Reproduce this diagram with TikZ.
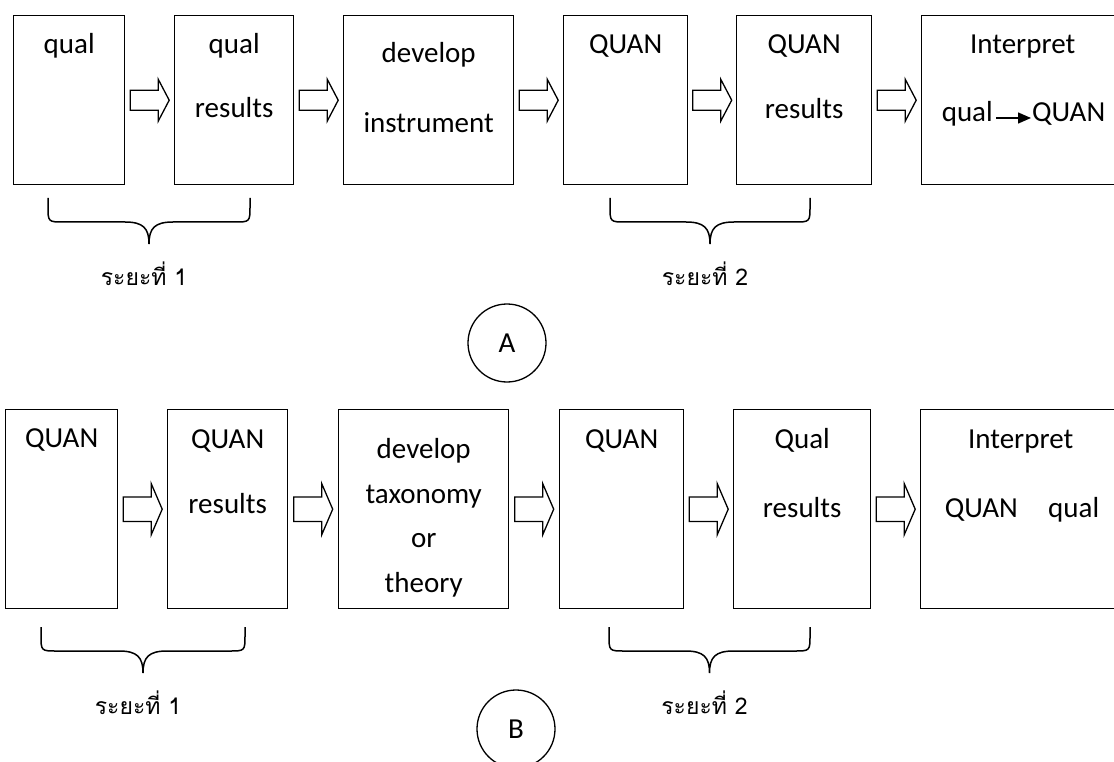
\documentclass[tikz,border=0pt]{standalone}
\usepackage{fontspec}
\setmainfont{Carlito}
\newfontfamily\thaifont[Script=Thai]{Loma}
\usetikzlibrary{calc,arrows.meta}

\begin{document}
\begin{tikzpicture}[x=1pt, y=-1pt, line join=miter]

%---- STYLES ----
\tikzset{
    stage/.style={draw, line width=1.4pt, inner sep=0pt, anchor=north west},
    lbl/.style={inner sep=0pt, anchor=base, font=\fontsize{29}{34}\selectfont},
    phase/.style={line width=1.5pt},
    phaselbl/.style={inner sep=0pt, anchor=base, font=\thaifont\fontsize{23}{28}\selectfont},
    tag/.style={draw, circle, line width=1.3pt, minimum size=78pt, inner sep=0pt,
        font=\fontsize{29}{34}\selectfont},
    blockarrow/.pic={
        \draw[line width=1.3pt] (-19.5,-10) -- (8.5,-10) -- (8.5,-21) -- (19.5,0)
            -- (8.5,21) -- (8.5,10) -- (-19.5,10) -- cycle;
    },
}

% FRAME
\useasboundingbox (0,0) rectangle (1114,762);
\clip (0,0) rectangle (1114,762);

%---- ROW A: qual -> QUAN ----
\node[stage, minimum width=111pt, minimum height=169pt] (qualA)    at (13,15)  {};
\node[stage, minimum width=119pt, minimum height=169pt] (qualresA) at (174,15) {};
\node[stage, minimum width=170pt, minimum height=169pt] (instrA)   at (343,15) {};
\node[stage, minimum width=124pt, minimum height=169pt] (quanA)    at (563,15) {};
\node[stage, minimum width=135pt, minimum height=169pt] (quanresA) at (736,15) {};
\node[stage, minimum width=202pt, minimum height=169pt] (interpA)  at (921,15) {};

% texts A
\node[lbl] at ($(qualA.north)+(0,39)$)    {qual};
\node[lbl] at ($(qualresA.north)+(0,39)$) {qual};
\node[lbl] at ($(qualresA.north)+(0,103)$) {results};
\node[lbl] at ($(instrA.north)+(0,48)$)   {develop};
\node[lbl] at ($(instrA.north)+(0,118)$)  {instrument};
\node[lbl] at ($(quanA.north)+(0,39)$)    {QUAN};
\node[lbl] at ($(quanresA.north)+(0,39)$) {QUAN};
\node[lbl] at ($(quanresA.north)+(0,104)$) {results};
\node[lbl] at ($(interpA.north)+(0,39)$)  {Interpret};
\node[lbl, anchor=base east] (qualI) at ($(interpA.north west)+(72,107)$)  {qual};
\node[lbl, anchor=base west] (quanI) at ($(interpA.north west)+(111,107)$) {QUAN};
\draw[line width=1.4pt, -{Triangle[length=13pt, width=11pt]}, shorten <=3pt, shorten >=1pt]
    ([yshift=4pt]qualI.base east) -- ([yshift=4pt]quanI.base west);

%---- ROW B: QUAN -> qual ----
\node[stage, minimum width=112pt, minimum height=199pt] (quanB)    at (5,409)   {};
\node[stage, minimum width=120pt, minimum height=199pt] (quanresB) at (167,409) {};
\node[stage, minimum width=170pt, minimum height=199pt] (taxB)     at (338,409) {};
\node[stage, minimum width=124pt, minimum height=199pt] (quanB2)   at (559,409) {};
\node[stage, minimum width=137pt, minimum height=199pt] (qualresB) at (733,409) {};
\node[stage, minimum width=200pt, minimum height=199pt] (interpB)  at (920,409) {};

% texts B
\node[lbl] at ($(quanB.north)+(0,38)$)    {QUAN};
\node[lbl] at ($(quanresB.north)+(0,39)$) {QUAN};
\node[lbl] at ($(quanresB.north)+(0,104)$) {results};
\node[lbl] at ($(taxB.north)+(0,49)$)     {develop};
\node[lbl] at ($(taxB.north)+(0,94)$)     {taxonomy};
\node[lbl] at ($(taxB.north)+(0,138)$)    {or};
\node[lbl] at ($(taxB.north)+(0,183)$)    {theory};
\node[lbl] at ($(quanB2.north)+(0,39)$)   {QUAN};
\node[lbl] at ($(qualresB.north)+(0,39)$) {Qual};
\node[lbl] at ($(qualresB.north)+(0,108)$) {results};
\node[lbl] at ($(interpB.north)+(0,39)$)  {Interpret};
\node[lbl, anchor=base east] at ($(interpB.north west)+(98,108)$)  {QUAN};
\node[lbl, anchor=base west] at ($(interpB.north west)+(128,108)$) {qual};

%---- BLOCK ARROWS ----
\foreach \a/\b in {qualA/qualresA, qualresA/instrA, instrA/quanA, quanA/quanresA, quanresA/interpA}
    \pic at ($(\a.east)!0.5!(\b.west)$) {blockarrow};
\foreach \a/\b in {quanB/quanresB, quanresB/taxB, taxB/quanB2, quanB2/qualresB, qualresB/interpB}
    \pic[yscale=1.22] at ($(\a.east)!0.5!(\b.west)$) {blockarrow};

%---- BRACES + PHASE LABELS ----
\foreach \xa/\xb/\yt/\n [count=\i] in {48/250/198/1, 610/810/198/2, 41/245/627/1, 609/810/627/2} {
    \pgfmathsetmacro{\xm}{(\xa+\xb)/2}
    \draw[phase] (\xa,\yt) -- (\xa,\yt+8) .. controls (\xa,\yt+24) .. (\xa+16,\yt+24)
        -- (\xm-24,\yt+24) .. controls (\xm-6,\yt+24) and (\xm,\yt+30) .. (\xm,\yt+46)
        .. controls (\xm,\yt+30) and (\xm+6,\yt+24) .. (\xm+24,\yt+24)
        -- (\xb-16,\yt+24) .. controls (\xb,\yt+24) .. (\xb,\yt+8) -- (\xb,\yt);
    \node[phaselbl] (phase\i) at (\xm-5,\yt+87) {ระยะที่ \n};
}

%---- DESIGN TAGS ----
\node[tag] (tagA) at (507,343) {A};
\node[tag] (tagB) at (516,729) {B};

\end{tikzpicture}
\end{document}
